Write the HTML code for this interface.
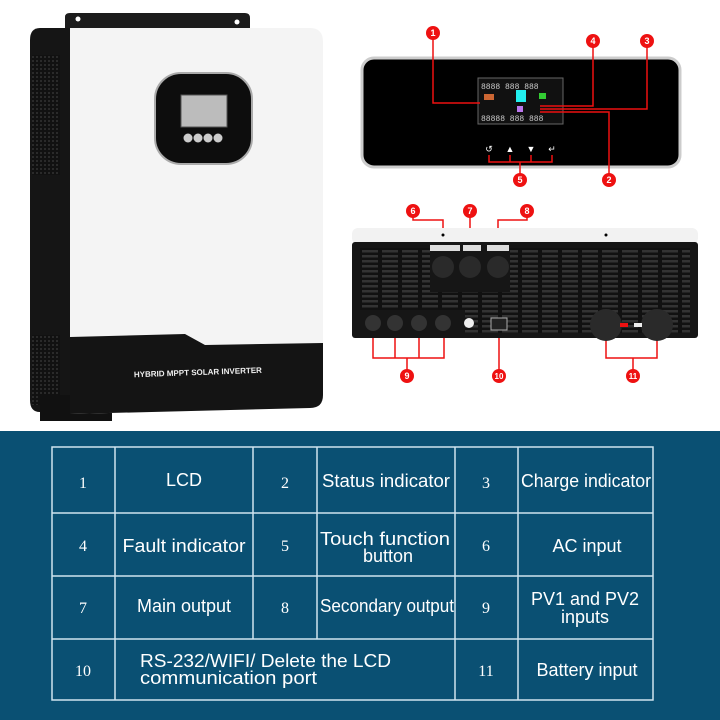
<!DOCTYPE html>
<html><head><meta charset="utf-8"><style>
body{margin:0;width:720px;height:720px;overflow:hidden;background:#fff;font-family:"Liberation Sans",sans-serif}
</style></head><body>
<svg width="720" height="720" viewBox="0 0 720 720" xmlns="http://www.w3.org/2000/svg" style="position:absolute;left:0;top:0">
<defs>
<pattern id="vent2" width="20" height="5" patternUnits="userSpaceOnUse"><rect width="20" height="5" fill="#111"/><rect x="2" y="0" width="16" height="2.5" fill="#333"/></pattern>
<pattern id="mesh" width="4" height="4" patternUnits="userSpaceOnUse"><rect width="4" height="4" fill="#111"/><rect width="2" height="2" fill="#2a2a2a"/></pattern>
</defs>
<!-- inverter left -->
<path d="M65 17 Q65 13 70 13 L245 13 Q250 13 250 18 L250 30 L65 30 Z" fill="#1c1c1c"/>
<circle cx="78" cy="19" r="2.5" fill="#fff"/><circle cx="237" cy="22" r="2.5" fill="#fff"/>
<path d="M40 28 L70 28 L70 412 L40 412 Q30 412 30 400 L30 40 Q30 28 40 28Z" fill="#151515"/>
<rect x="32" y="55" width="28" height="120" fill="url(#mesh)"/>
<rect x="32" y="335" width="28" height="70" fill="url(#mesh)"/>
<rect x="40" y="395" width="72" height="26" fill="#111"/>
<path d="M70 28 L310 28 Q323 28 323 42 L323 395 Q323 408 310 408 L70 414 Z" fill="#f4f4f4"/>
<path d="M70 337 L185 334 L205 345 L323 343 L323 395 Q323 408 310 408 L70 414 Z" fill="#141414"/>
<text x="198" y="375" font-size="8" font-weight="bold" fill="#eee" text-anchor="middle" transform="rotate(-2 198 375)">HYBRID MPPT SOLAR INVERTER</text>
<rect x="155" y="73" width="97" height="91" rx="26" fill="#0d0d0d" stroke="#aaa" stroke-width="2"/>
<rect x="181" y="95" width="46" height="32" fill="#bcbcbc" stroke="#555"/>
<circle cx="188" cy="138" r="4.5" fill="#ccc"/><circle cx="198" cy="138" r="4.5" fill="#ccc"/><circle cx="208" cy="138" r="4.5" fill="#ccc"/><circle cx="218" cy="138" r="4.5" fill="#ccc"/>
<!-- top panel -->
<rect x="362" y="58" width="318" height="109" rx="12" fill="#000" stroke="#ccc" stroke-width="3"/>
<rect x="478" y="78" width="85" height="46" fill="#111" stroke="#666"/>
<text x="481" y="89" font-size="8" fill="#ccc" font-family="Liberation Mono">8888  888  888</text>
<text x="481" y="121" font-size="8" fill="#ccc" font-family="Liberation Mono">88888 888 888</text>
<rect x="516" y="90" width="10" height="12" fill="#2ee"/><rect x="539" y="93" width="7" height="6" fill="#3c3"/><rect x="517" y="106" width="6" height="6" fill="#b7e"/><rect x="484" y="94" width="10" height="6" fill="#c63"/>
<text x="489" y="152" font-size="9" fill="#fff" text-anchor="middle">↺</text><text x="510" y="152" font-size="9" fill="#fff" text-anchor="middle">▲</text><text x="531" y="152" font-size="9" fill="#fff" text-anchor="middle">▼</text><text x="552" y="152" font-size="9" fill="#fff" text-anchor="middle">↵</text>
<g stroke="#e11" stroke-width="1.5" fill="none">
<path d="M433 33 L433 103 L480 103"/><path d="M593 41 L593 106 L540 106"/><path d="M647 41 L647 109 L540 109"/><path d="M609 180 L609 112 L540 112"/>
<path d="M489 155 L489 162 L552 162 L552 155 M510 155 L510 162 M531 155 L531 162 M520 162 L520 180"/>
<path d="M413 211 L413 220 L443 220 L443 267 M470 211 L470 267 M527 211 L527 220 L498 220 L498 267"/>
<path d="M373 323 L373 358 L444 358 L444 323 M395 323 L395 358 M419 323 L419 358 M407 358 L407 376 M499 325 L499 376"/>
<path d="M606 325 L606 358 L657 358 L657 325 M633 358 L633 376"/>
</g>
<g fill="#e11">
<circle cx="433" cy="33" r="7"/><circle cx="593" cy="41" r="7"/><circle cx="647" cy="41" r="7"/><circle cx="520" cy="180" r="7"/><circle cx="609" cy="180" r="7"/>
<circle cx="413" cy="211" r="7"/><circle cx="470" cy="211" r="7"/><circle cx="527" cy="211" r="7"/><circle cx="407" cy="376" r="7"/><circle cx="499" cy="376" r="7"/><circle cx="633" cy="376" r="7"/>
</g>
<g fill="#fff" font-size="9" font-weight="bold" text-anchor="middle">
<text x="433" y="36">1</text><text x="593" y="44">4</text><text x="647" y="44">3</text><text x="520" y="183">5</text><text x="609" y="183">2</text>
<text x="413" y="214">6</text><text x="470" y="214">7</text><text x="527" y="214">8</text><text x="407" y="379">9</text><text x="499" y="379" font-size="8">10</text><text x="633" y="379" font-size="8">11</text>
</g>
<!-- back panel -->
<rect x="352" y="228" width="346" height="16" rx="6" fill="#f2f2f2"/>
<rect x="352" y="242" width="346" height="96" rx="3" fill="#161616"/>
<rect x="360" y="248" width="330" height="85" fill="url(#vent2)"/>
<rect x="355" y="310" width="110" height="28" fill="#161616"/>
<rect x="430" y="242" width="80" height="50" fill="#161616"/>
<rect x="430" y="245" width="30" height="6" fill="#ddd"/><rect x="463" y="245" width="18" height="6" fill="#ddd"/><rect x="487" y="245" width="22" height="6" fill="#ddd"/>
<circle cx="443" cy="267" r="11" fill="#2a2a2a"/><circle cx="470" cy="267" r="11" fill="#2a2a2a"/><circle cx="498" cy="267" r="11" fill="#2a2a2a"/>
<circle cx="373" cy="323" r="8" fill="#333"/><circle cx="395" cy="323" r="8" fill="#333"/><circle cx="419" cy="323" r="8" fill="#333"/><circle cx="443" cy="323" r="8" fill="#333"/>
<circle cx="469" cy="323" r="5" fill="#eee"/>
<rect x="491" y="318" width="16" height="12" fill="#222" stroke="#aaa"/>
<circle cx="606" cy="325" r="16" fill="#2a2a2a"/><circle cx="657" cy="325" r="16" fill="#2a2a2a"/>
<rect x="620" y="323" width="8" height="4" fill="#e11"/><rect x="634" y="323" width="8" height="4" fill="#eee"/>
<circle cx="443" cy="235" r="1.5" fill="#000"/><circle cx="606" cy="235" r="1.5" fill="#000"/>
<!-- bottom -->
<rect x="0" y="431" width="720" height="289" fill="#0a5073"/>
<g stroke="#cfe4f0" stroke-width="1.5" fill="none">
<rect x="52" y="447" width="601" height="253"/>
<path d="M52 513 H653 M52 576 H653 M52 639 H653"/>
<path d="M115 447 V700 M253 447 V639 M317 447 V639 M455 447 V700 M518 447 V700"/>
</g>
<g fill="#fff" font-size="18" text-anchor="middle">
<g font-family="Liberation Serif" font-size="16">
<text x="83" y="488">1</text><text x="285" y="488">2</text><text x="486" y="488">3</text>
<text x="83" y="551">4</text><text x="285" y="551">5</text><text x="486" y="551">6</text>
<text x="83" y="613">7</text><text x="285" y="613">8</text><text x="486" y="613">9</text>
<text x="83" y="676">10</text><text x="486" y="676">11</text>
</g>
<text x="184" y="486">LCD</text><text x="386" y="487" textLength="128" lengthAdjust="spacingAndGlyphs">Status indicator</text><text x="586" y="487" textLength="130" lengthAdjust="spacingAndGlyphs">Charge indicator</text>
<text x="184" y="552" textLength="123" lengthAdjust="spacingAndGlyphs">Fault indicator</text><text x="385" y="545" textLength="130" lengthAdjust="spacingAndGlyphs">Touch function</text><text x="388" y="562">button</text><text x="587" y="552">AC input</text>
<text x="184" y="612">Main output</text><text x="387" y="612" textLength="134" lengthAdjust="spacingAndGlyphs">Secondary output</text><text x="585" y="605">PV1 and PV2</text><text x="585" y="623">inputs</text>
<text x="140" y="667" text-anchor="start" textLength="251" lengthAdjust="spacingAndGlyphs">RS-232/WIFI/ Delete the LCD</text><text x="140" y="684" text-anchor="start" textLength="177" lengthAdjust="spacingAndGlyphs">communication port</text><text x="587" y="676">Battery input</text>
</g>
</svg>
</body></html>
